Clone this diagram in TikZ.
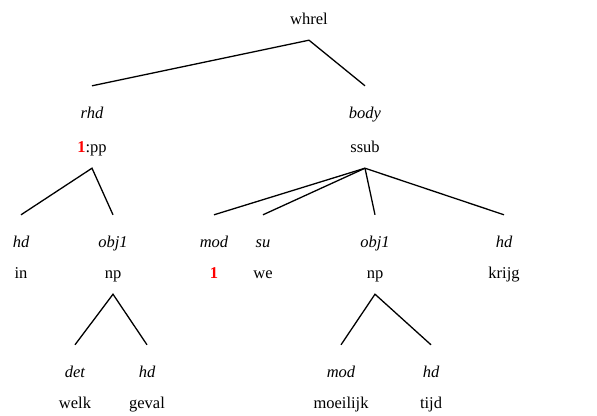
\documentclass[tikz,border=0pt]{standalone}
\usepackage{fontspec}
\setmainfont{Liberation Serif}
\usepackage{xcolor}
\usepackage{tikz}
\usetikzlibrary{positioning}
\definecolor{treeIdx}{HTML}{FF0000}
\newcommand{\idx}[1]{{\color{treeIdx}\textbf{#1}}}

\begin{document}
\begin{tikzpicture}[
  x=1pt, y=-1pt,
  rel/.style={anchor=base, inner sep=0pt, text height=32pt, text depth=4pt,
              font=\fontsize{16.5}{20}\selectfont\itshape},
  cat/.style={anchor=base, inner sep=0pt, text height=12pt, text depth=16pt,
              font=\fontsize{16.5}{20}\selectfont},
  e/.style={line width=1.3pt}
]
\useasboundingbox (0,0) rectangle (597,415);
% top
\node[cat] (whrel) at (309,24) {whrel};
\node[rel] (rhd) at (92,118) {rhd};
\node[cat] (pp) at (92,152) {\idx{1}:pp};
\node[rel] (body) at (365,118) {body};
\node[cat] (ssub) at (365,152) {ssub};
% middle row
\node[rel] (hd1) at (21,247) {hd};
\node[cat] (in) at (21,278) {in};
\node[rel] (obja) at (113,247) {obj1};
\node[cat] (npa) at (113,278) {np};
\node[rel] (moda) at (214,247) {mod};
\node[cat] (co) at (214,278) {\idx{1}};
\node[rel] (su) at (263,247) {su};
\node[cat] (we) at (263,278) {we};
\node[rel] (objb) at (375,247) {obj1};
\node[cat] (npb) at (375,278) {np};
\node[rel] (hd2) at (504,247) {hd};
\node[cat] (krijg) at (504,278) {krijg};
% bottom row
\node[rel] (det) at (75,377) {det};
\node[cat] (welk) at (75,408) {welk};
\node[rel] (hd3) at (147,377) {hd};
\node[cat] (geval) at (147,408) {geval};
\node[rel] (modb) at (341,377) {mod};
\node[cat] (moeilijk) at (341,408) {moeilijk};
\node[rel] (hd4) at (431,377) {hd};
\node[cat] (tijd) at (431,408) {tijd};
% edges
\draw[e] (rhd.north) -- (whrel.south) -- (body.north);
\draw[e] (hd1.north) -- (pp.south) -- (obja.north);
\draw[e] (ssub.south) -- (moda.north);
\draw[e] (ssub.south) -- (su.north);
\draw[e] (ssub.south) -- (objb.north);
\draw[e] (ssub.south) -- (hd2.north);
\draw[e] (det.north) -- (npa.south) -- (hd3.north);
\draw[e] (modb.north) -- (npb.south) -- (hd4.north);
\end{tikzpicture}
\end{document}
